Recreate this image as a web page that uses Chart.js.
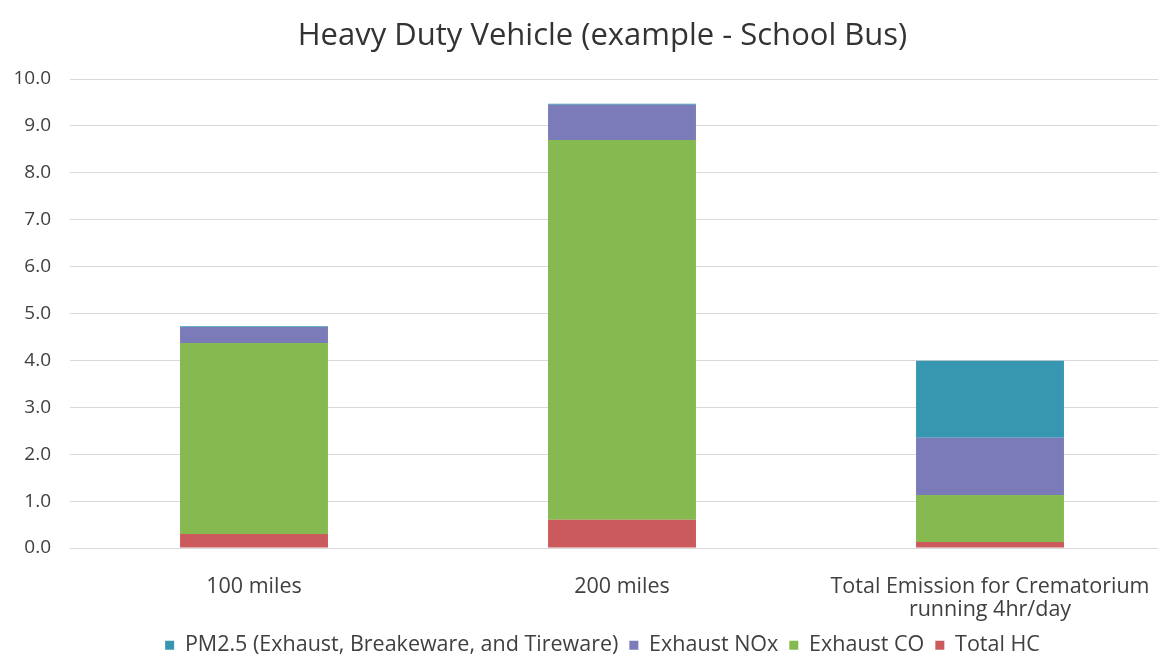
<!DOCTYPE html>
<html lang="en">
<head>
  <meta charset="UTF-8" />
  <title>Heavy Duty Vehicle (example - School Bus)</title>
  <style>
    body {
      margin: 0;
      background: #fff;
      overflow: hidden;
    }
    #wrap {
      width: 1205px;
      height: 666px;
    }
  </style>
</head>
<body>
  <div id="wrap"><canvas id="chart" width="1205" height="666"></canvas></div>

  <script src="https://cdn.jsdelivr.net/npm/chart.js"></script>
  <script>
    // data
    const categories = ['100 miles', '200 miles', ['Total Emission for Crematorium', 'running 4hr/day']];
    const totalHC = [0.30, 0.60, 0.13];
    const exhaustCO = [4.07, 8.10, 1.00];
    const exhaustNOx = [0.34, 0.75, 1.22];
    const pm25 = [0.02, 0.02, 1.64];
    const yTicks = [0, 1, 2, 3, 4, 5, 6, 7, 8, 9, 10];

    const font = "'Open Sans', sans-serif";
    const textColor = '#404040';

    const ctx = document.getElementById('chart').getContext('2d');

    new Chart(ctx, {
      type: 'bar',
      data: {
        labels: categories,
        datasets: [
          { label: 'Total HC', data: totalHC, backgroundColor: '#cb5a5c' },
          { label: 'Exhaust CO', data: exhaustCO, backgroundColor: '#86b950' },
          { label: 'Exhaust NOx', data: exhaustNOx, backgroundColor: '#7b7bb9' },
          { label: 'PM2.5 (Exhaust, Breakeware, and Tireware)', data: pm25, backgroundColor: '#3797b1' }
        ]
      },
      options: {
        responsive: false,
        animation: false,
        layout: { padding: { top: 0, bottom: 0, left: 0, right: 0 } },
        datasets: {
          bar: { barPercentage: 0.402, categoryPercentage: 1 }
        },
        plugins: {
          title: {
            display: true,
            text: 'Heavy Duty Vehicle (example - School Bus)',
            color: '#333',
            font: { family: font, size: 31, weight: 'normal', lineHeight: 1.2 },
            padding: { top: 17.5, bottom: 24.3 }
          },
          legend: {
            position: 'bottom',
            reverse: true,
            labels: {
              color: textColor,
              font: { family: font, size: 21.5 },
              boxWidth: 9,
              boxHeight: 9,
              padding: 11
            }
          },
          tooltip: { enabled: false }
        },
        scales: {
          x: {
            stacked: true,
            grid: { display: false },
            border: { color: '#d9d9d9' },
            ticks: {
              color: textColor,
              font: { family: font, size: 21.5, lineHeight: 1.05 },
              padding: 19.7,
              maxRotation: 0
            },
            afterFit: (s) => { s.height = 75.5; }
          },
          y: {
            stacked: true,
            min: yTicks[0],
            max: yTicks[yTicks.length - 1],
            grid: { color: '#d9d9d9', drawTicks: false },
            border: { display: false },
            ticks: {
              stepSize: 1,
              color: textColor,
              font: { family: font, size: 19 },
              padding: 19,
              callback: (v) => v.toFixed(1)
            },
            afterFit: (s) => { s.width = 70; }
          },
          // empty axis on the right, the source chart runs past the crop
          yRight: {
            position: 'right',
            display: true,
            grid: { display: false },
            border: { display: false },
            ticks: { display: false },
            afterFit: (s) => { s.width = 31; }
          }
        }
      }
    });
  </script>
</body>
</html>
